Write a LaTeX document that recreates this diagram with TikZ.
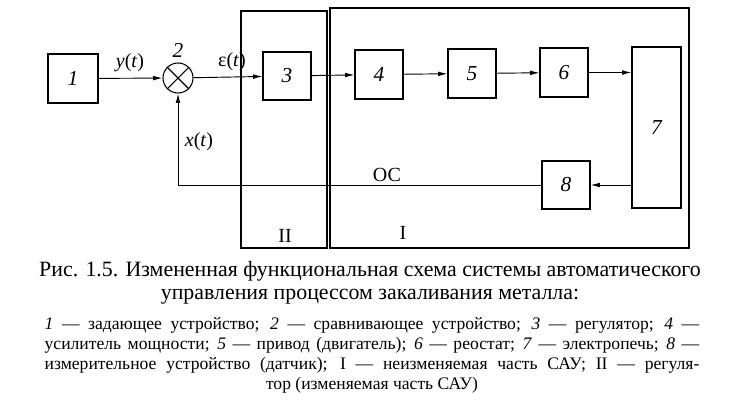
\documentclass[tikz,border=0pt]{standalone}
\usepackage{fontspec}
\setmainfont{Liberation Serif}
\usetikzlibrary{arrows.meta}
\begin{document}
\begin{tikzpicture}[x=0.75pt,y=-0.75pt,
  blk/.style={draw,line width=0.8pt,inner sep=0pt,font=\fontsize{16}{16}\selectfont\itshape},
  frm/.style={draw,line width=0.8pt},
  sig/.style={line width=0.7pt,-{Latex[length=7pt,width=3.5pt]}},
  lbl/.style={font=\fontsize{15}{15}\selectfont},
  leg/.style={font=\fontsize{13.2}{15}\selectfont,inner sep=0pt}]
\useasboundingbox (0,0) rectangle (741,404);
\draw[frm] (241,11) rectangle (327,248);
\draw[frm] (330,8) rectangle (689,248);
\node[blk,minimum width=37.5pt,minimum height=36.75pt] (b1) at (73,78.5) {1};
\node[draw,circle,line width=0.8pt,minimum size=22.5pt,inner sep=0pt] (s) at (178,78) {};
\draw[line width=0.8pt] (s.north west)--(s.south east) (s.north east)--(s.south west);
\node[blk,minimum width=36pt,minimum height=36pt] (b3) at (287,76) {3};
\node[blk,minimum width=36pt,minimum height=36.75pt] (b4) at (379,74.5) {4};
\node[blk,minimum width=36pt,minimum height=36.75pt] (b5) at (472,73.5) {5};
\node[blk,minimum width=36pt,minimum height=36.75pt] (b6) at (564,72.5) {6};
\node[blk,minimum width=36.75pt,minimum height=120.75pt] (b7) at (656.5,127.5) {7};
\node[blk,minimum width=36pt,minimum height=36pt] (b8) at (566,185) {8};
\node[font=\fontsize{16}{16}\selectfont\itshape] (n2) at (178,50) {2};
\draw[sig] (b1) -- (s);
\draw[sig] (s) -- (b3);
\draw[sig] (b3) -- (b4);
\draw[sig] (b4) -- (b5);
\draw[sig] (b5) -- (b6);
\draw[sig] (b6.east) -- (b6.east -| b7.west);
\draw[sig] (b7.west |- b8) -- (b8);
\draw[sig] (b8.west) -| (s.south);
\node[lbl] (ly) at (130,63) {\textit{y}(\textit{t})};
\node[lbl] (le) at (232,62) {ε(\textit{t})};
\node[lbl] (lx) at (199,142) {\textit{x}(\textit{t})};
\node[lbl] (loc) at (387,175) {ОС};
\node[lbl] (lII) at (285,236) {II};
\node[lbl] (lI) at (403,233) {I};
\node[font=\fontsize{16.4}{17.5}\selectfont,align=center] (cap) at (370,283)
 {Рис. 1.5. Измененная функциональная схема системы автоматического\\управления процессом закаливания металла:};
\node[leg] (l1) at (372,325) {\makebox[491pt][s]{\textit{1} — задающее устройство; \textit{2} — сравнивающее устройство; \textit{3} — регулятор; \textit{4} —}};
\node[leg] (l2) at (372,345) {\makebox[491pt][s]{усилитель мощности; \textit{5} — привод (двигатель); \textit{6} — реостат; \textit{7} — электропечь; \textit{8} —}};
\node[leg] (l3) at (372,365) {\makebox[491pt][s]{измерительное устройство (датчик); I — неизменяемая часть САУ; II — регуля-}};
\node[leg] (l4) at (372,385) {тор (изменяемая часть САУ)};
\end{tikzpicture}
\end{document}
